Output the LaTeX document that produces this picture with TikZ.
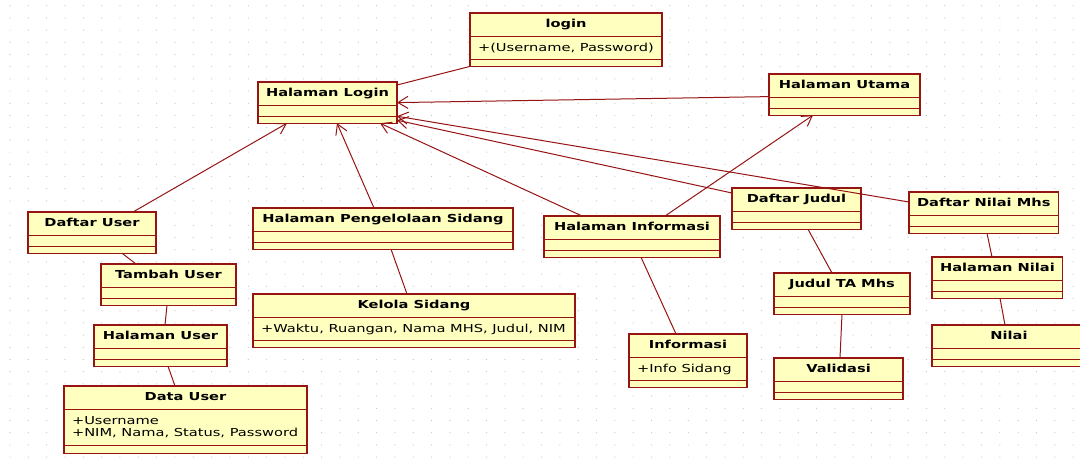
\documentclass[tikz,border=0pt]{standalone}
\usepackage{fontspec}
\usepackage{tikz}
\usetikzlibrary{shapes.multipart, arrows.meta}
\newfontfamily\umlfont[FakeStretch=1.33]{DejaVu Sans}
\definecolor{umlfill}{RGB}{255,255,192}
\definecolor{umlline}{RGB}{150,20,20}
\definecolor{griddot}{RGB}{195,195,195}
% blank compartment of a class box
\newcommand{\emptycomp}{\hspace*{0.1pt}}

\begin{document}
\begin{tikzpicture}[x=1pt, y=-1pt,
    classbox/.style={rectangle split, rectangle split parts=3,
        rectangle split part align={center, left, center},
        draw=umlline, line width=1.3pt, fill=umlfill, anchor=north west, outer sep=0pt,
        inner xsep=8pt, inner ysep=2.75pt,
        font=\umlfont\fontsize{11}{16.5}\selectfont},
    assoc/.style={draw=umlline, line width=1pt},
    navarrow/.style={assoc, -{Straight Barb[length=10pt, width=12pt]}}]

        % Dotted background grid
        \fill[white] (0,0) rectangle (1080,466);
        \useasboundingbox (0,0) rectangle (1080,466);
        \foreach \i in {0,...,58} {
            \foreach \j in {0,...,37} {
                \fill[griddot] (10+18.33*\i, 5.7+12.2*\j) circle (0.6pt);
            }
        }

        % Classes
        \node[classbox, minimum width=192pt] (login) at (470,13)
        {\textbf{login}\strut \nodepart{two} +(Username, Password)\strut \nodepart{three}\emptycomp};
        \node[classbox, minimum width=139pt] (hlogin) at (258,82)
        {\textbf{Halaman Login}\strut \nodepart{two}\emptycomp \nodepart{three}\emptycomp};
        \node[classbox, minimum width=151pt] (hutama) at (769,74)
        {\textbf{Halaman Utama}\strut \nodepart{two}\emptycomp \nodepart{three}\emptycomp};

        \node[classbox, minimum width=128pt] (duser) at (28,212)
        {\textbf{Daftar User}\strut \nodepart{two}\emptycomp \nodepart{three}\emptycomp};
        \node[classbox, minimum width=135pt] (tuser) at (101,264)
        {\textbf{Tambah User}\strut \nodepart{two}\emptycomp \nodepart{three}\emptycomp};
        \node[classbox, minimum width=133pt] (huser) at (94,325)
        {\textbf{Halaman User}\strut \nodepart{two}\emptycomp \nodepart{three}\emptycomp};
        \node[classbox, minimum width=243pt, align=left] (datauser) at (64,386)
        {\textbf{Data User}\strut \nodepart{two} +Username\strut \\[-3.8pt] +NIM, Nama, Status, Password\strut
         \nodepart{three}\rule{0pt}{1.5pt}};

        \node[classbox, minimum width=260pt] (hpeng) at (253,208)
        {\textbf{Halaman Pengelolaan Sidang}\strut \nodepart{two}\emptycomp \nodepart{three}\emptycomp};
        \node[classbox, minimum width=322pt] (kelola) at (253,294)
        {\textbf{Kelola Sidang}\strut \nodepart{two} +Waktu, Ruangan, Nama MHS, Judul, NIM\strut \nodepart{three}\emptycomp};

        \node[classbox, minimum width=176pt] (hinfo) at (544,216)
        {\textbf{Halaman Informasi}\strut \nodepart{two}\emptycomp \nodepart{three}\emptycomp};
        \node[classbox, minimum width=118pt] (info) at (629,334)
        {\textbf{Informasi}\strut \nodepart{two} +Info Sidang\strut \nodepart{three}\emptycomp};

        \node[classbox, minimum width=129pt] (djudul) at (732,188)
        {\textbf{Daftar Judul}\strut \nodepart{two}\emptycomp \nodepart{three}\emptycomp};
        \node[classbox, minimum width=136pt] (judulta) at (774,273)
        {\textbf{Judul TA Mhs}\strut \nodepart{two}\emptycomp \nodepart{three}\emptycomp};
        \node[classbox, minimum width=129pt] (validasi) at (774,358)
        {\textbf{Validasi}\strut \nodepart{two}\emptycomp \nodepart{three}\emptycomp};

        \node[classbox, minimum width=146pt] (dnilai) at (909,192)
        {\textbf{Daftar Nilai Mhs}\strut \nodepart{two}\emptycomp \nodepart{three}\emptycomp};
        \node[classbox, minimum width=128pt] (hnilai) at (932,257)
        {\textbf{Halaman Nilai}\strut \nodepart{two}\emptycomp \nodepart{three}\emptycomp};
        \node[classbox, minimum width=154pt] (nilai) at (932,325)
        {\textbf{Nilai}\strut \nodepart{two}\emptycomp \nodepart{three}\emptycomp};

        % Navigation arrows
        \draw[navarrow] ([yshift=-2pt]hutama.west) -- (hlogin.east);
        \draw[navarrow] ([yshift=-10pt]dnilai.north west) -- ([yshift=7pt]hlogin.south east);
        \draw[navarrow] ([yshift=-5pt]djudul.north west) -- ([yshift=3pt]hlogin.south east);
        \draw[navarrow] ([xshift=38pt]hinfo.north west) -- ([xshift=-17pt]hlogin.south east);
        \draw[navarrow] ([xshift=121pt]hpeng.north west) -- ([xshift=79pt]hlogin.south west);
        \draw[navarrow] ([xshift=105pt]duser.north west) -- ([xshift=29pt]hlogin.south west);
        \draw[navarrow] ([xshift=121pt]hinfo.north west) -- ([xshift=44pt]hutama.south west);

        % Plain links
        \draw[assoc] (login.south west) -- ([yshift=-3pt]hlogin.north east);
        \draw[assoc] ([xshift=94pt]duser.south west) -- ([xshift=35pt]tuser.north west);
        \draw[assoc] ([xshift=66pt]tuser.south west) -- ([xshift=71pt]huser.north west);
        \draw[assoc] ([xshift=74pt]huser.south west) -- ([xshift=111pt]datauser.north west);
        \draw[assoc] ([xshift=138pt]hpeng.south west) -- ([xshift=154pt]kelola.north west);
        \draw[assoc] ([xshift=97pt]hinfo.south west) -- ([xshift=47pt]info.north west);
        \draw[assoc] ([xshift=76pt]djudul.south west) -- ([xshift=58pt]judulta.north west);
        \draw[assoc] ([xshift=68pt]judulta.south west) -- ([xshift=66pt]validasi.north west);
        \draw[assoc] ([xshift=78pt]dnilai.south west) -- ([xshift=60pt]hnilai.north west);
        \draw[assoc] ([xshift=68pt]hnilai.south west) -- ([xshift=73pt]nilai.north west);

\end{tikzpicture}
\end{document}
